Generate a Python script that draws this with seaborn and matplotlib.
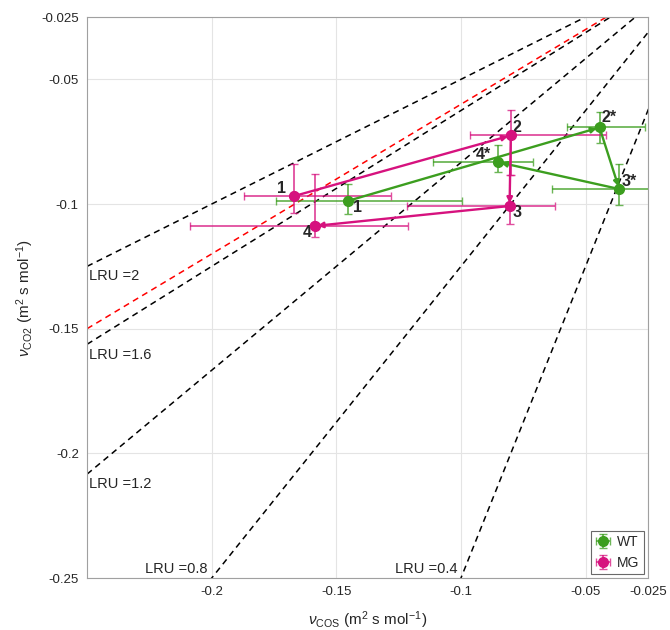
import numpy as np
import pandas as pd
import matplotlib
matplotlib.use("Agg")
import matplotlib.pyplot as plt
import seaborn as sns

# ---- data ----
mg_labels = ["1", "2", "3", "4"]
mg_x = [-0.1669, -0.0800, -0.0805, -0.1587]
mg_y = [-0.0968, -0.0725, -0.1008, -0.1088]
mg_xneg = [0.0203, 0.0164, 0.0411, 0.0502]
mg_xpos = [0.0390, 0.0380, 0.0181, 0.0376]
mg_yneg = [0.0067, 0.0159, 0.0073, 0.0045]
mg_ypos = [0.0127, 0.0104, 0.0124, 0.0207]

wt_labels = ["1", "2*", "3*", "4*"]
wt_x = [-0.1452, -0.0444, -0.0365, -0.0851]
wt_y = [-0.0987, -0.0693, -0.0940, -0.0832]
wt_xneg = [0.0291, 0.0129, 0.0271, 0.0263]
wt_xpos = [0.0456, 0.0184, 0.0160, 0.0141]
wt_yneg = [0.0054, 0.0064, 0.0065, 0.0040]
wt_ypos = [0.0066, 0.0063, 0.0099, 0.0068]

lru_values = [2, 1.6, 1.2, 0.8, 0.4]
lru_ref = 1 / 0.6  # red reference line

xticks = [-0.2, -0.15, -0.1, -0.05, -0.025]
yticks = [-0.25, -0.2, -0.15, -0.1, -0.05, -0.025]

sns.set_theme(style="white")
plt.rcParams['font.family'] = ['Liberation Sans', 'DejaVu Sans']
plt.rcParams['mathtext.fontset'] = 'custom'
plt.rcParams['mathtext.rm'] = 'Liberation Sans'
plt.rcParams['mathtext.it'] = 'Liberation Sans:italic'

GREEN = "#3c9e1f"
MAGENTA = "#d6127e"

fig = plt.figure(figsize=(6.7, 6.3), dpi=100)
ax = fig.add_axes([0.130, 0.0825, 0.837, 0.8905])
ax.set_xlim(-0.25, -0.025)
ax.set_ylim(-0.25, -0.025)

# LRU lines
xs = np.linspace(-0.25, 0, 200)
for lru in lru_values:
    ax.plot(xs, xs / lru, color="black", lw=1.1, ls=(0, (4, 3)), zorder=1)
ax.plot(xs, xs / lru_ref, color="red", lw=1.1, ls=(0, (4, 3)), zorder=1)

lfs = 10.5
ax.text(-0.2492, -0.129, "LRU =2", fontsize=lfs, va="center", ha="left")
ax.text(-0.2492, -0.1604, "LRU =1.6", fontsize=lfs, va="center", ha="left")
ax.text(-0.2492, -0.2124, "LRU =1.2", fontsize=lfs, va="center", ha="left")
ax.text(-0.2015, -0.2462, "LRU =0.8", fontsize=lfs, va="center", ha="right")
ax.text(-0.1013, -0.2462, "LRU =0.4", fontsize=lfs, va="center", ha="right")

# error bars
eb_wt = ax.errorbar(wt_x, wt_y, xerr=[wt_xneg, wt_xpos], yerr=[wt_yneg, wt_ypos], fmt="o",
                    color=GREEN, ecolor=GREEN, elinewidth=1.3, capsize=3,
                    markersize=7, zorder=3, label="WT")
eb_mg = ax.errorbar(mg_x, mg_y, xerr=[mg_xneg, mg_xpos], yerr=[mg_yneg, mg_ypos], fmt="o",
                    color=MAGENTA, ecolor=MAGENTA, elinewidth=1.3, capsize=3,
                    markersize=7, zorder=3, label="MG")
for eb in (eb_wt, eb_mg):
    for c in eb[1]:
        c.set_alpha(0.75)
    for c in eb[2]:
        c.set_alpha(0.75)

# markers via seaborn
df = pd.DataFrame({
    "x": wt_x + mg_x,
    "y": wt_y + mg_y,
    "grp": ["WT"] * 4 + ["MG"] * 4,
})
sns.scatterplot(data=df, x="x", y="y", hue="grp", palette={"WT": GREEN, "MG": MAGENTA},
                s=50, edgecolor="none", legend=False, ax=ax, zorder=5)

# paths with arrows
def path(xv, yv, col):
    for i in range(len(xv) - 1):
        ax.annotate("", xy=(xv[i + 1], yv[i + 1]), xytext=(xv[i], yv[i]),
                    arrowprops=dict(arrowstyle="-|>", color=col, lw=1.7,
                                    mutation_scale=8, shrinkA=0, shrinkB=2),
                    zorder=4)

path(wt_x, wt_y, GREEN)
path(mg_x, mg_y, MAGENTA)

# point labels
bfs = 11.5
ax.text(mg_x[0] - 0.0050, mg_y[0] + 0.0030, mg_labels[0], fontsize=bfs, fontweight="bold", ha="center", va="center")
ax.text(mg_x[1] + 0.0026, mg_y[1] + 0.0032, mg_labels[1], fontsize=bfs, fontweight="bold", ha="center", va="center")
ax.text(mg_x[2] + 0.0030, mg_y[2] - 0.0028, mg_labels[2], fontsize=bfs, fontweight="bold", ha="center", va="center")
ax.text(mg_x[3] - 0.0030, mg_y[3] - 0.0028, mg_labels[3], fontsize=bfs, fontweight="bold", ha="center", va="center")
ax.text(wt_x[0] + 0.0038, wt_y[0] - 0.0026, wt_labels[0], fontsize=bfs, fontweight="bold", ha="center", va="center")
ax.text(wt_x[1] + 0.0040, wt_y[1] + 0.0040, wt_labels[1], fontsize=bfs, fontweight="bold", ha="center", va="center")
ax.text(wt_x[2] + 0.0040, wt_y[2] + 0.0032, wt_labels[2], fontsize=bfs, fontweight="bold", ha="center", va="center")
ax.text(wt_x[3] - 0.0060, wt_y[3] + 0.0030, wt_labels[3], fontsize=bfs, fontweight="bold", ha="center", va="center")

# axes styling
ax.set_xticks(xticks)
ax.set_yticks(yticks)
ax.set_xticklabels([f"{v:g}" for v in xticks])
ax.set_yticklabels([f"{v:g}" for v in yticks])
ax.tick_params(axis="both", labelsize=9.5, direction="in", length=3, colors="#555555",
               labelcolor="#262626", pad=6)
ax.grid(True, color="#e4e4e4", lw=0.8)
ax.set_axisbelow(True)
for sp in ax.spines.values():
    sp.set_color("#a0a0a0")
    sp.set_linewidth(0.8)

ax.set_xlabel(r"$\nu_{\rm COS}$ (m$^2$ s mol$^{-1}$)", fontsize=11, labelpad=8)
ax.set_ylabel(r"$\nu_{\rm CO2}$ (m$^2$ s mol$^{-1}$)", fontsize=11, labelpad=4)

leg = ax.legend(handles=[eb_wt, eb_mg], labels=["WT", "MG"], loc="lower right",
                fontsize=10, frameon=True, fancybox=False, borderpad=0.3,
                handlelength=1.2, handletextpad=0.4, borderaxespad=0.3)
leg.get_frame().set_edgecolor("#444444")
leg.get_frame().set_linewidth(0.8)

fig.savefig("out.png", dpi=100)
